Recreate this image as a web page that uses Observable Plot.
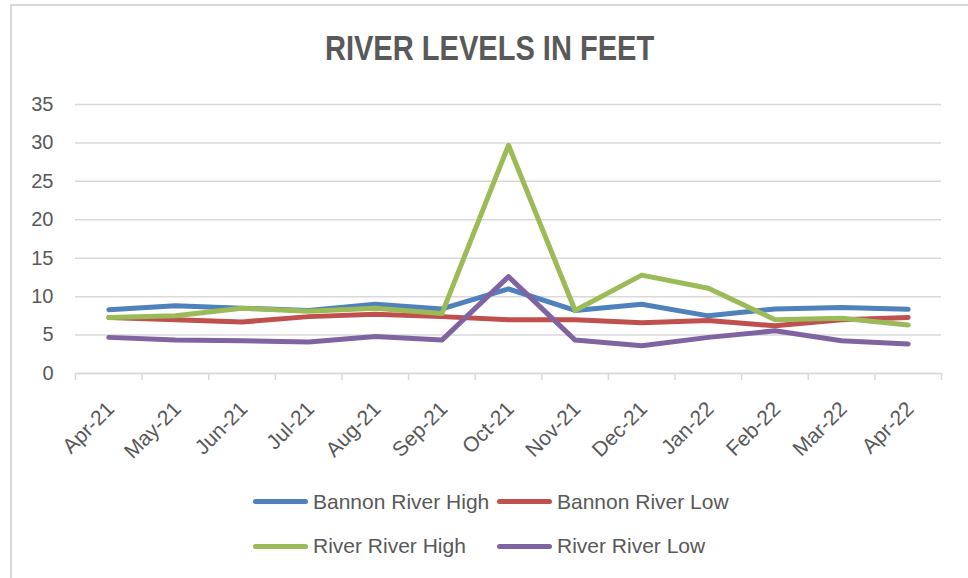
<!DOCTYPE html>
<html>
<head>
<meta charset="utf-8">
<script src="https://cdn.jsdelivr.net/npm/d3@7"></script>
<script src="https://cdn.jsdelivr.net/npm/@observablehq/plot@0.6"></script>
<style>
  html, body { margin: 0; padding: 0; background: #fff; }
  #chart { position: relative; width: 968px; height: 578px; overflow: hidden; background: #fff; }
  #frame { position: absolute; left: 10px; top: 4px; width: 970px; height: 600px; border-left: 2px solid #d9d9d9; border-top: 2px solid #d9d9d9; box-sizing: border-box; }
  #title { position: absolute; left: 11px; width: 957px; top: 28px; text-align: center;
           font-family: "Liberation Sans", sans-serif; font-weight: bold;
           font-size: 35px; color: #595959; line-height: 40px; transform: scaleX(0.83); transform-origin: 479px 0; }
  #plot { position: absolute; left: 0; top: 0; }
  .leg { position: absolute; font-family: "Liberation Sans", sans-serif; font-size: 21px; color: #595959; line-height: 24px; white-space: nowrap; }
  .sw { position: absolute; height: 5px; border-radius: 3px; }
</style>
</head>
<body>
<div id="chart">
  <div id="frame"></div>
  <div id="plot"></div>
  <div id="title">RIVER LEVELS IN FEET</div>
  <div id="legend"></div>
</div>
<script>
const months = ["Apr-21","May-21","Jun-21","Jul-21","Aug-21","Sep-21","Oct-21","Nov-21","Dec-21","Jan-22","Feb-22","Mar-22","Apr-22"];
const seriesNames = ["Bannon River High","Bannon River Low","River River High","River River Low"];
const seriesColors = ["#4F81BD","#C0504D","#9BBB59","#8064A2"];
const bannonHigh = [8.3, 8.8, 8.5, 8.2, 9.0, 8.4, 11.0, 8.2, 9.0, 7.5, 8.4, 8.6, 8.35];
const bannonLow  = [7.3, 7.0, 6.7, 7.4, 7.7, 7.4, 7.0, 7.0, 6.6, 6.9, 6.2, 7.0, 7.3];
const riverHigh  = [7.3, 7.5, 8.5, 8.1, 8.5, 7.8, 29.7, 8.2, 12.8, 11.1, 7.0, 7.2, 6.3];
const riverLow   = [4.7, 4.35, 4.25, 4.1, 4.8, 4.35, 12.6, 4.35, 3.6, 4.7, 5.55, 4.25, 3.85];
const yTicks = [0, 5, 10, 15, 20, 25, 30, 35];

const allSeries = [bannonHigh, bannonLow, riverHigh, riverLow];
const data = [];
allSeries.forEach((vals, s) => vals.forEach((v, i) => data.push({series: seriesNames[s], i, month: months[i], value: v})));

const boundaries = d3.range(months.length + 1).map(k => k - 0.5);
const centers = d3.range(months.length);

const plot = Plot.plot({
  width: 968,
  height: 470,
  marginLeft: 75,
  marginRight: 27,
  marginTop: 104,
  marginBottom: 97,
  style: {fontFamily: "Liberation Sans, sans-serif", fontSize: "20px", color: "#595959", background: "transparent", overflow: "visible"},
  x: {type: "linear", domain: [-0.5, months.length - 0.5], label: null, axis: null},
  y: {domain: [0, 35], label: null, axis: null},
  color: {domain: seriesNames, range: seriesColors},
  marks: [
    Plot.gridY(yTicks, {stroke: "#d9d9d9", strokeOpacity: 1, strokeWidth: 1.5}),
    Plot.ruleY([0], {stroke: "#d9d9d9", strokeWidth: 1.5}),
    Plot.axisX(boundaries, {tickSize: 7, tickFormat: () => "", stroke: "#d9d9d9", strokeWidth: 1.5, label: null}),
    Plot.text(centers, {x: d => d, y: () => 0, text: d => months[d], rotate: -45, textAnchor: "end",
      lineAnchor: "middle", fontSize: 21, fill: "#595959", dx: 2, dy: 32}),
    Plot.text(yTicks, {x: -0.5, y: d => d, text: d => String(d), textAnchor: "end", dx: -22, fontSize: 20, fill: "#595959"}),
    Plot.line(data, {x: "i", y: "value", z: "series", stroke: "series", strokeWidth: 5, strokeLinejoin: "round", strokeLinecap: "round"})
  ]
});
document.getElementById("plot").appendChild(plot);

const legend = document.getElementById("legend");
const legPos = [
  {sx: 253, tx: 313, y: 501.5},
  {sx: 497, tx: 557, y: 501.5},
  {sx: 253, tx: 313, y: 546},
  {sx: 497, tx: 557, y: 546}
];
seriesNames.forEach((name, k) => {
  const p = legPos[k];
  const sw = document.createElement("div");
  sw.className = "sw";
  sw.style.left = p.sx + "px";
  sw.style.width = "55px";
  sw.style.top = (p.y - 2.5) + "px";
  sw.style.background = seriesColors[k];
  legend.appendChild(sw);
  const t = document.createElement("div");
  t.className = "leg";
  t.style.left = p.tx + "px";
  t.style.top = (p.y - 12) + "px";
  t.textContent = name;
  legend.appendChild(t);
});
</script>
</body>
</html>
